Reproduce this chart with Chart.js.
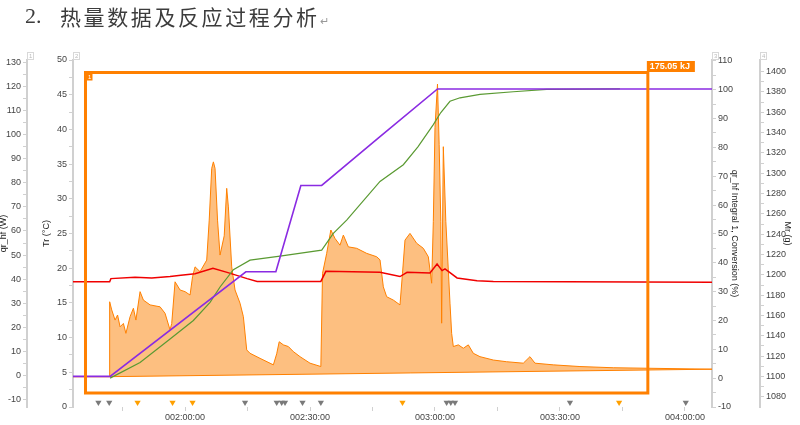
<!DOCTYPE html>
<html>
<head>
<meta charset="utf-8">
<script src="https://cdn.jsdelivr.net/npm/chart.js@4.4.1/dist/chart.umd.min.js"></script>
<style>
  body { margin: 0; background: #fff; }
  #wrap { position: relative; width: 800px; height: 425px; }
  #chart { position: absolute; left: 0; top: 0; }
  .hd { position: absolute; color: #3c3c3c; white-space: nowrap; }
  #num { left: 25px; top: 3px; font: 22px "Liberation Serif", serif; }
  #ttl { left: 60px; top: 1px; font: 21px "Noto Sans CJK SC", sans-serif; letter-spacing: 2.6px; }
  #ttl span { font-size: 11px; color: #999; letter-spacing: 0; }
</style>
</head>
<body>
<div id="wrap">
  <canvas id="chart" width="800" height="425"></canvas>
  <div class="hd" id="num">2.</div>
  <div class="hd" id="ttl">热量数据及反应过程分析<span>↵</span></div>
</div>
<script>
// time axis in minutes since start (120 = 002:00:00)

// qr_hf (W) - heat flow
const qrTimes = [93.1, 101.8, 101.9, 102.4, 103.2, 103.8, 104.4, 105.2, 105.8, 106.8, 107.6, 108.2, 109.2, 110.0,
  111.6, 114.0, 115.2, 116.4, 116.8, 117.6, 118.8, 120.0, 121.2, 121.8, 122.4, 123.6, 125.2, 125.8, 126.4,
  126.8, 127.2, 127.8, 128.4, 129.4, 130.0, 130.4, 131.2, 132.0, 133.2, 134.0, 134.8, 135.6, 138.0, 141.2,
  142.0, 142.6, 143.6, 144.8, 146.0, 147.6, 150.0, 152.6, 153.0, 154.0, 155.0, 156.0, 157.2, 158.0, 159.2,
  161.2, 163.6, 166.0, 166.8, 167.6, 168.4, 170.0, 171.6, 172.2, 172.8, 174.0, 175.6, 177.2, 178.4, 179.2,
  179.6, 180.0, 180.6, 181.0, 181.4, 181.6, 182.0, 182.6, 183.2, 183.6, 184.0, 184.4, 185.6, 186.8, 188.0,
  189.2, 190.8, 194.0, 197.2, 201.2, 202.8, 204.0, 208.4, 214.8, 222.8, 230.8, 246.5];
const qrValues = [-0.5, -0.5, 30.6, 27.2, 23, 25.1, 20.2, 21.6, 17.5, 24.4, 27.9, 23, 34.8, 31.3,
  29.3, 28.5, 25.8, 18.9, 21.6, 38.9, 35.5, 34.8, 33.4, 41, 45.1, 43.1, 47.9, 64.5, 86,
  88.7, 86, 64.5, 50, 58, 77.7, 70, 45.1, 35.5, 30, 24.4, 10.6, 9.2, 7.1, 4.4,
  9, 14.0, 12.7, 12, 9.9, 7.8, 5.1, 3.7, 42.4, 50.7, 60.4, 56.9, 54.1, 58.3, 53.4,
  52.8, 50.7, 49.3, 48, 36.8, 32.7, 31.3, 29.3, 42.4, 56.2, 59, 54.9, 52.8, 49.3, 38.3,
  64, 103, 121, 96, 64, 21.7, 95, 64, 43.8, 30, 17.5, 12, 12.7, 11.3, 12.7,
  9.2, 7.8, 6.4, 5.7, 5.1, 7.8, 5.1, 4.4, 3.7, 3.2, 3.0, 2.6];

// integral baseline (W)
const baseTimes = [93.1, 101.9, 246.5];
const baseValues = [-0.5, -0.5, 2.6];

// Tr (°C)
const trTimes = [93.1, 101.9, 102.2, 108.0, 112.0, 116.4, 119.0, 122.4, 126.7, 130.1, 134.9, 137.3, 152.6, 153.8,
  166.8, 171.6, 173.3, 178.8, 180.5, 181.7, 182.4, 185.3, 190.1, 194.0, 246.5];
const trValues = [18.06, 18.06, 18.5, 18.7, 18.6, 18.8, 19.0, 19.2, 20.0, 19.4, 18.5, 18.1, 18.1, 19.55,
  19.4, 18.8, 19.4, 19.3, 20.6, 19.65, 19.9, 18.6, 18.2, 18.1, 17.96];

// Conversion (%)
const convTimes = [102.0, 109.2, 116.4, 122.0, 126.0, 128.4, 131.6, 135.6, 142.8, 152.8, 155.6, 158.8, 166.8,
  172.4, 175.9, 179.6, 181.4, 183.6, 186.0, 190.8, 198.8, 206.8, 224.4];
const convValues = [0, 5.4, 13.6, 20, 26.3, 31.6, 37.6, 40.9, 42.3, 44.4, 50.2, 54.8, 68.2,
  74, 80.2, 87.9, 92.1, 96.0, 97.2, 98.4, 99.3, 100.1, 100.3];

// Mr (g)
const mrTimes = [93.1, 102.0, 134.6, 141.8, 147.8, 152.8, 166.8, 180.6, 246.5];
const mrValues = [1100, 1100, 1203, 1203, 1288, 1288, 1336, 1383, 1383];

// event markers (minutes)
const grayEvents = [99.2, 101.8, 134.4, 142.0, 143.2, 144.0, 148.2, 152.6, 182.8, 183.8, 184.8, 212.4, 240.2];
const orangeEvents = [108.6, 117.0, 121.8, 172.2, 224.2];

// integration range
const integralStart = 96.1;
const integralEnd = 231.1;
const integralLabel = "175.05 kJ";

// tick values
const xTicks = [105, 120, 135, 150, 165, 180, 195, 210, 225, 240];
const qrTicks = [];
for (let v = -10; v <= 130; v += 5) qrTicks.push(v);
const trTicks = [];
for (let v = 0; v <= 50; v += 2.5) trTicks.push(v);
const convTicks = [];
for (let v = -10; v <= 110; v += 5) convTicks.push(v);
const mrTicks = [];
for (let v = 1080; v <= 1400; v += 10) mrTicks.push(v);

const zip = (xs, ys) => xs.map((x, i) => ({ x: x, y: ys[i] }));

const FONT = { family: '"Liberation Sans", Arial, sans-serif', size: 9 };
const TICK_COLOR = "#444";
const AXIS_GRAY = "#d0d0d0";

function fmtTime(v) {
  const h = Math.floor(v / 60);
  const m = v % 60;
  return String(h).padStart(3, "0") + ":" + String(m).padStart(2, "0") + ":00";
}

function yAxis(opts) {
  return {
    type: "linear",
    position: opts.position,
    weight: opts.weight,
    min: opts.min,
    max: opts.max,
    afterBuildTicks: (s) => { s.ticks = opts.ticks.map((v) => ({ value: v })); },
    afterFit: (s) => { s.width = opts.width; },
    ticks: {
      autoSkip: false,
      padding: 2,
      color: TICK_COLOR,
      font: FONT,
      callback: (v) => (v % opts.labelStep === 0 ? v : ""),
    },
    grid: { drawOnChartArea: false, tickLength: 4, color: AXIS_GRAY },
    border: { color: AXIS_GRAY, width: 2 },
    title: {
      display: true,
      text: opts.title,
      color: "#222",
      font: { family: FONT.family, size: 9, lineHeight: 1 },
      padding: { top: opts.titlePad, bottom: 0 },
    },
  };
}

// integration box + label
const integralBox = {
  id: "integralBox",
  afterDatasetsDraw(chart) {
    const { ctx, chartArea, scales } = chart;
    const x1 = scales.x.getPixelForValue(integralStart);
    const x2 = scales.x.getPixelForValue(integralEnd);
    const y1 = chartArea.top + 12.5;
    const y2 = chartArea.bottom - 14;
    ctx.save();
    ctx.strokeStyle = "#ff8000";
    ctx.lineWidth = 3;
    ctx.strokeRect(x1, y1, x2 - x1, y2 - y1);

    ctx.font = 'bold 9px "Liberation Sans", Arial, sans-serif';
    const w = ctx.measureText(integralLabel).width + 8;
    ctx.fillStyle = "#ff8000";
    ctx.fillRect(x2 - 1, y1 - 11.5, w, 11);
    ctx.fillStyle = "#fff";
    ctx.textBaseline = "middle";
    ctx.fillText(integralLabel, x2 + 2, y1 - 5.5);

    ctx.fillStyle = "#ff8000";
    ctx.fillRect(x1 + 1, y1 + 1, 6, 7);
    ctx.fillStyle = "#fff";
    ctx.font = '6px "Liberation Sans", Arial, sans-serif';
    ctx.fillText("1", x1 + 2.5, y1 + 4.8);
    ctx.restore();
  },
};

// small numbered tags at the top of each y axis
const axisTags = {
  id: "axisTags",
  afterDraw(chart) {
    const { ctx, chartArea } = chart;
    const tags = [["y1", "1"], ["y2", "2"], ["y3", "3"], ["y4", "4"]];
    ctx.save();
    ctx.font = '6px "Liberation Sans", Arial, sans-serif';
    ctx.textBaseline = "middle";
    tags.forEach(([id, label]) => {
      const s = chart.scales[id];
      const x = s.position === "left" ? s.right : s.left;
      const y = chartArea.top - 7;
      ctx.strokeStyle = "#d8d8d8";
      ctx.lineWidth = 1;
      ctx.strokeRect(x + 0.5, y - 0.5, 6, 7);
      ctx.fillStyle = "#bbb";
      ctx.fillText(label, x + 2, y + 3);
    });
    ctx.restore();
  },
};

const ctx = document.getElementById("chart").getContext("2d");

new Chart(ctx, {
  type: "line",
  data: {
    datasets: [
      {
        label: "Mr (g)",
        data: zip(mrTimes, mrValues),
        yAxisID: "y4",
        borderColor: "#8a2be2",
        borderWidth: 1.6,
        pointRadius: 0,
        order: 1,
      },
      {
        label: "Conversion (%)",
        data: zip(convTimes, convValues),
        yAxisID: "y3",
        borderColor: "#5a9a32",
        borderWidth: 1.2,
        pointRadius: 0,
        order: 2,
      },
      {
        label: "Tr (°C)",
        data: zip(trTimes, trValues),
        yAxisID: "y2",
        borderColor: "#f00000",
        borderWidth: 1.5,
        pointRadius: 0,
        order: 3,
      },
      {
        label: "qr_hf (W)",
        data: zip(qrTimes, qrValues),
        yAxisID: "y1",
        borderColor: "#ff8000",
        backgroundColor: "#fdbf80",
        borderWidth: 1,
        pointRadius: 0,
        fill: "+1",
        order: 5,
      },
      {
        label: "baseline",
        data: zip(baseTimes, baseValues),
        yAxisID: "y1",
        borderColor: "#ff8000",
        borderWidth: 1,
        pointRadius: 0,
        order: 4,
      },
      {
        type: "scatter",
        label: "events",
        data: grayEvents.map((t) => ({ x: t, y: 0.65 })),
        yAxisID: "y2",
        pointStyle: "triangle",
        rotation: 180,
        pointRadius: 3.6,
        backgroundColor: "#7a7a7a",
        borderWidth: 0,
        order: 0,
      },
      {
        type: "scatter",
        label: "events2",
        data: orangeEvents.map((t) => ({ x: t, y: 0.65 })),
        yAxisID: "y2",
        pointStyle: "triangle",
        rotation: 180,
        pointRadius: 3.6,
        backgroundColor: "#ffa000",
        borderWidth: 0,
        order: 0,
      },
    ],
  },
  options: {
    responsive: false,
    animation: false,
    events: [],
    layout: { padding: { top: 60, left: 0, right: 0, bottom: 0 } },
    elements: { line: { tension: 0 } },
    plugins: { legend: { display: false }, tooltip: { enabled: false } },
    scales: {
      x: {
        type: "linear",
        min: 93.1,
        max: 246.5,
        afterBuildTicks: (s) => { s.ticks = xTicks.map((v) => ({ value: v })); },
        afterFit: (s) => { s.height = 18; },
        ticks: {
          autoSkip: false,
          maxRotation: 0,
          padding: 1,
          color: TICK_COLOR,
          font: FONT,
          callback: (v) => (v % 30 === 0 ? fmtTime(v) : ""),
        },
        grid: { drawOnChartArea: false, tickLength: 4, color: AXIS_GRAY },
        border: { display: false },
      },
      y1: yAxis({ position: "left", weight: 2, min: -13.1, max: 131, ticks: qrTicks, labelStep: 10,
        width: 27, title: "qr_hf (W)", titlePad: -1 }),
      y2: yAxis({ position: "left", weight: 1, min: 0, max: 50, ticks: trTicks, labelStep: 5,
        width: 46, title: "Tr (°C)", titlePad: 15 }),
      y3: yAxis({ position: "right", weight: 1, min: -10, max: 110.3, ticks: convTicks, labelStep: 10,
        width: 48, title: "qr_hf Integral 1, Conversion (%)", titlePad: 21 }),
      y4: yAxis({ position: "right", weight: 2, min: 1069.9, max: 1411.5, ticks: mrTicks, labelStep: 20,
        width: 40, title: "Mr (g)", titlePad: 8 }),
    },
  },
  plugins: [integralBox, axisTags],
});
</script>
</body>
</html>
